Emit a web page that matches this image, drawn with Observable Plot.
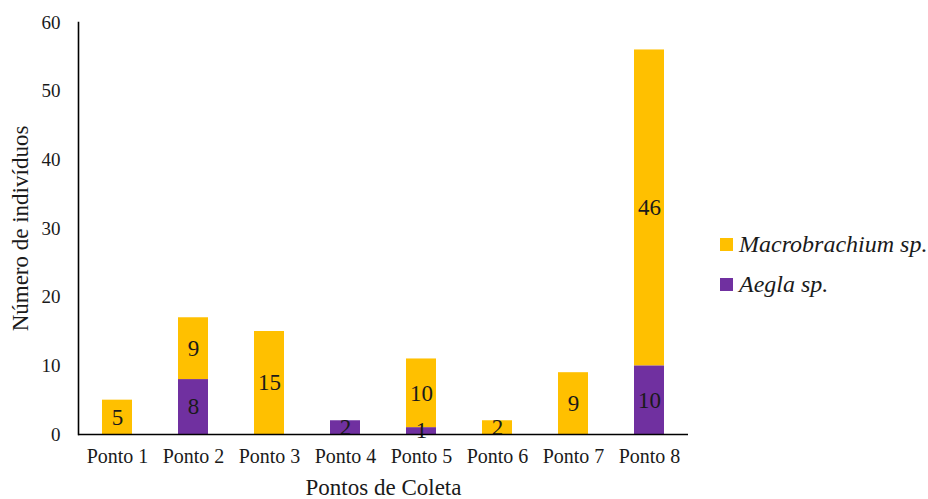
<!DOCTYPE html>
<html>
<head>
<meta charset="utf-8">
<script src="https://cdn.jsdelivr.net/npm/d3@7"></script>
<script src="https://cdn.jsdelivr.net/npm/@observablehq/plot@0.6"></script>
<style>
  html, body { margin: 0; padding: 0; background: #fff; }
  #wrap { position: relative; width: 928px; height: 499px; font-family: "Liberation Serif", "DejaVu Serif", serif; }
  #legend { position: absolute; left: 720px; top: 224px; font-family: "Liberation Serif", "DejaVu Serif", serif; font-style: italic; font-size: 24px; color: #1a1a1a; }
  #legend .item { display: flex; align-items: center; height: 40px; }
  #legend .sw { width: 13px; height: 13px; margin-right: 6px; }
</style>
</head>
<body>
<div id="wrap"></div>
<script>
// Sampling points and species counts
const pontos = ["Ponto 1", "Ponto 2", "Ponto 3", "Ponto 4", "Ponto 5", "Ponto 6", "Ponto 7", "Ponto 8"];
const especies = ["Aegla sp.", "Macrobrachium sp."];
const aegla = [0, 8, 0, 2, 1, 0, 0, 10];
const macrobrachium = [5, 9, 15, 0, 10, 2, 9, 46];
const cores = ["#7030A0", "#FFC000"];
const yTicks = [0, 10, 20, 30, 40, 50, 60];

const data = [];
pontos.forEach((p, i) => {
  data.push({ponto: p, especie: especies[0], n: aegla[i]});
  data.push({ponto: p, especie: especies[1], n: macrobrachium[i]});
});

const font = "Liberation Serif, DejaVu Serif, serif";

const chart = Plot.plot({
  width: 928,
  height: 499,
  marginLeft: 78,
  marginRight: 240,
  marginTop: 22,
  marginBottom: 65,
  style: {fontFamily: font, fontSize: "20px", color: "#1a1a1a", background: "#fff"},
  x: {domain: pontos, paddingInner: 0.6, paddingOuter: 0.3},
  y: {domain: [0, 60]},
  color: {domain: especies, range: cores},
  marks: [
    Plot.barY(data, {x: "ponto", y: "n", fill: "especie", order: especies}),
    Plot.text(data, Plot.stackY({
      x: "ponto", y: "n", z: "especie", order: especies,
      filter: d => d.n > 0,
      text: d => String(d.n),
      fontSize: 23, fontFamily: font, fill: "#1a1a1a"
    })),
    Plot.axisY({ticks: yTicks, tickSize: 0, tickPadding: 18, fontSize: 19, fontFamily: font,
      label: "Número de indivíduos", labelAnchor: "center", labelArrow: "none", labelOffset: 67}),
    Plot.axisX({tickSize: 0, tickPadding: 14, fontSize: 20, fontFamily: font,
      label: "Pontos de Coleta", labelAnchor: "center", labelArrow: "none", labelOffset: 60}),
    Plot.frame({anchor: "left", stroke: "#000", strokeWidth: 1.6}),
    Plot.ruleY([0], {stroke: "#000", strokeWidth: 1.6})
  ]
});

// enlarge axis titles
chart.querySelectorAll("g[aria-label='y-axis label'] text, g[aria-label='x-axis label'] text")
  .forEach(t => t.setAttribute("font-size", "23"));

const wrap = document.getElementById("wrap");
wrap.appendChild(chart);

// Legend: Macrobrachium on top, Aegla below
const legend = document.createElement("div");
legend.id = "legend";
[1, 0].forEach(k => {
  const item = document.createElement("div");
  item.className = "item";
  const sw = document.createElement("span");
  sw.className = "sw";
  sw.style.background = cores[k];
  const lab = document.createElement("span");
  lab.textContent = especies[k];
  item.appendChild(sw);
  item.appendChild(lab);
  legend.appendChild(item);
});
wrap.appendChild(legend);
</script>
</body>
</html>
